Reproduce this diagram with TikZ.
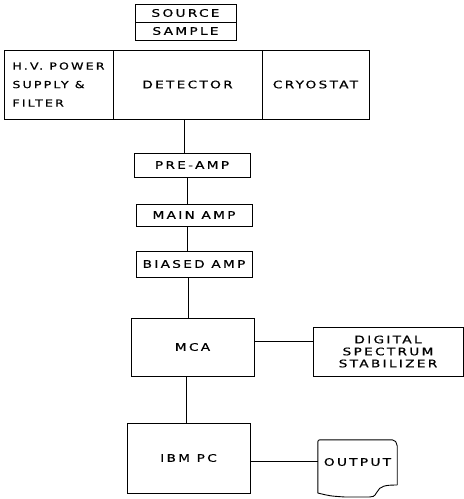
\documentclass[tikz,border=0pt]{standalone}
\usepackage{fontspec}
\setmainfont{DejaVu Sans}[LetterSpace=22, FakeStretch=1.3, FakeBold=0.6]
\usepackage{tikz}
\usetikzlibrary{calc}

\begin{document}
\begin{tikzpicture}[
  x=1pt, y=-1pt,
  font=\fontsize{10.5}{12}\selectfont,
  blk/.style={draw, line width=0.9pt, inner sep=0pt, align=center},
  wire/.style={line width=0.9pt}
]
  \useasboundingbox (0,0) rectangle (464,499);

  % sample stage
  \node[blk, minimum width=101pt, minimum height=18pt] (source) at (185.5,13) {SOURCE};
  \node[blk, minimum width=101pt, minimum height=18pt] (sample) at (185.5,31) {SAMPLE};

  \node[blk, minimum width=109pt, minimum height=69pt, align=left,
        font=\fontsize{9.7}{18.5}\selectfont] (hvps) at (58.5,84.5)
    {H.V. POWER\\SUPPLY \&\\FILTER};
  \node[blk, minimum width=149pt, minimum height=69pt] (detector) at (187.5,84.5) {DETECTOR};
  \node[blk, minimum width=107pt, minimum height=69pt] (cryostat) at (315.5,84.5) {CRYOSTAT};

  % amplifier chain
  \node[blk, minimum width=116pt, minimum height=24pt] (preamp) at (192,165) {PRE-AMP};
  \node[blk, minimum width=116pt, minimum height=22pt] (mainamp) at (194,215) {MAIN AMP};
  \node[blk, minimum width=116pt, minimum height=26pt] (biasamp) at (194,264) {BIASED AMP};

  \node[blk, minimum width=123pt, minimum height=58pt] (mca) at (192.5,347) {MCA};
  \node[blk, minimum width=150pt, minimum height=49pt] (dss) at (388,351.5)
    {DIGITAL\\SPECTRUM\\STABILIZER};
  \node[blk, minimum width=123pt, minimum height=70pt] (ibmpc) at (188.5,458) {IBM PC};
  \node[inner sep=0pt, minimum width=79pt, minimum height=44pt] (output) at (357.5,462) {OUTPUT};

  % printout outline
  \draw[wire, rounded corners=2pt] (output.west |- 0,493) -- (output.north west)
    -- ($(output.north east)+(-3,0)$) -- ($(output.north east)+(0,4)$)
    -- ($(output.east)+(0,23)$);
  \draw[wire] ($(output.east)+(0,23)$) .. controls (385,485) and (380,486) .. (377,492)
    .. controls (374,497) .. (365,497) -- (345,497)
    .. controls (330,496) .. (output.west |- 0,493);

  \draw[wire] (184,0 |- detector.south) -- (184,0 |- preamp.north);
  \draw[wire] (187,0 |- preamp.south) -- (187,0 |- mainamp.north);
  \draw[wire] (187,0 |- mainamp.south) -- (187,0 |- biasamp.north);
  \draw[wire] (188,0 |- biasamp.south) -- (188,0 |- mca.north);
  \draw[wire] (186,0 |- mca.south) -- (186,0 |- ibmpc.north);
  \draw[wire] ([yshift=6pt]mca.east) -- ([yshift=6pt]mca.east -| dss.west);
  \draw[wire] ([yshift=-3pt]ibmpc.east) -- ([yshift=-3pt]ibmpc.east -| output.west);
\end{tikzpicture}
\end{document}
